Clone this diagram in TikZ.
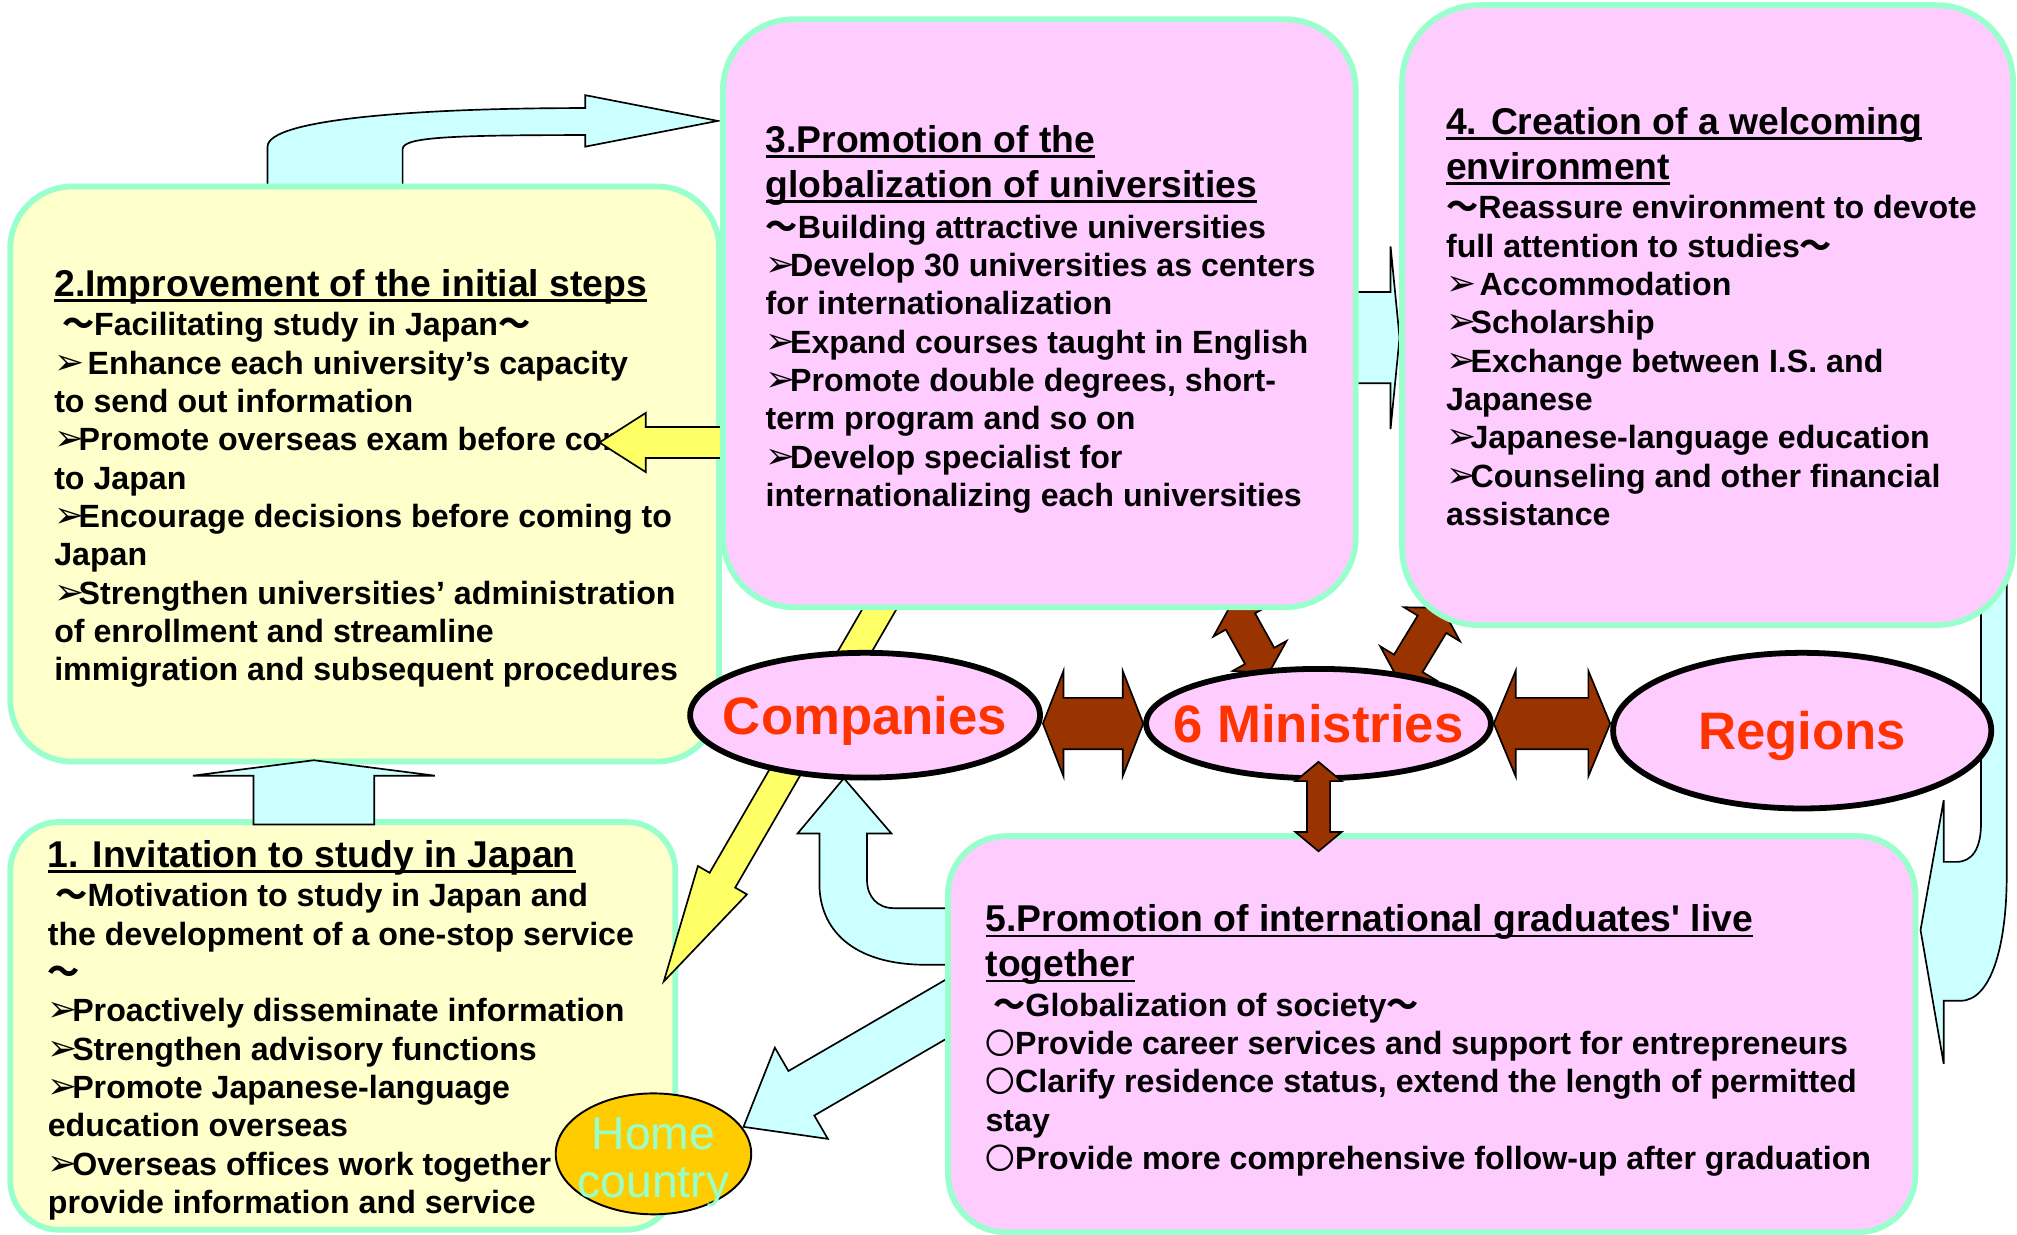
\documentclass[tikz,border=0pt]{standalone}
\usepackage{fontspec}
\setmainfont{Liberation Sans}
\newfontfamily\symbolfont{DejaVu Sans}
\newfontfamily\cjkfont{Noto Sans CJK JP}
\usetikzlibrary{shapes.geometric,calc}

\definecolor{panelline}{RGB}{153,255,204}
\definecolor{paleyellow}{RGB}{255,255,204}
\definecolor{palepink}{RGB}{255,204,255}
\definecolor{paleblue}{RGB}{204,255,255}
\definecolor{arrowbrown}{RGB}{153,51,0}
\definecolor{arrowyellow}{RGB}{255,255,102}
\definecolor{partnerred}{RGB}{255,51,0}
\definecolor{homegold}{RGB}{255,204,0}

% marks used in the lists
\newcommand{\arrowmark}{\makebox[19pt][l]{\symbolfont\fontsize{28}{28}\selectfont ➢}}
\newcommand{\tildemark}{{\cjkfont ～}}
\newcommand{\circmark}{{\cjkfont\mdseries\fontsize{23}{23}\selectfont 〇}}
\newsavebox{\titlebox}
\newcommand{\titleline}[1]{\sbox{\titlebox}{#1}\rlap{\rule[-4.5pt]{\wd\titlebox}{2pt}}\usebox{\titlebox}}

% block arrow: [style]{start}{tip}{half shaft}{half head}{head length}
\newcommand{\bigarrow}[6][]{%
  \coordinate (ba-s) at #2;
  \coordinate (ba-t) at #3;
  \coordinate (ba-h) at ($(ba-t)!#6!(ba-s)$);
  \path[#1] ($(ba-s)!#4!90:(ba-t)$) -- ($(ba-h)!#4!90:(ba-t)$) -- ($(ba-h)!#5!90:(ba-t)$) -- (ba-t)
    -- ($(ba-h)!#5!-90:(ba-t)$) -- ($(ba-h)!#4!-90:(ba-t)$) -- ($(ba-s)!#4!-90:(ba-t)$) -- cycle;}
% double block arrow: [style]{tip a}{tip b}{half shaft}{half head}{head length}
\newcommand{\pairarrow}[6][]{%
  \coordinate (pa-a) at #2;
  \coordinate (pa-b) at #3;
  \coordinate (pa-ha) at ($(pa-a)!#6!(pa-b)$);
  \coordinate (pa-hb) at ($(pa-b)!#6!(pa-a)$);
  \path[#1] (pa-a) -- ($(pa-ha)!#5!90:(pa-b)$) -- ($(pa-ha)!#4!90:(pa-b)$)
    -- ($(pa-hb)!#4!-90:(pa-a)$) -- ($(pa-hb)!#5!-90:(pa-a)$) -- (pa-b)
    -- ($(pa-hb)!#5!90:(pa-a)$) -- ($(pa-hb)!#4!90:(pa-a)$)
    -- ($(pa-ha)!#4!-90:(pa-b)$) -- ($(pa-ha)!#5!-90:(pa-b)$) -- cycle;}

\tikzset{
  yellowpanel/.style={draw=panelline, line width=4.5pt, fill=paleyellow, rounded corners=48pt, inner sep=0pt},
  pinkpanel/.style={draw=panelline, line width=4.5pt, fill=palepink, rounded corners=55pt, inner sep=0pt},
  partner/.style={ellipse, draw=black, line width=4.5pt, fill=palepink, text=partnerred,
    inner xsep=-20pt, inner ysep=0pt, text depth=0pt, font=\fontsize{41}{45}\selectfont\bfseries},
  hometown/.style={ellipse, draw=black, line width=1.5pt, fill=homegold, text=panelline,
    align=center, inner sep=-10pt, font=\fontsize{36}{38}\selectfont},
  titletext/.style={anchor=north west, inner sep=0pt, align=left, font=\fontsize{29}{35}\selectfont\bfseries},
  bodytext/.style={anchor=north west, inner sep=0pt, align=left, font=\fontsize{25}{29.8}\selectfont\bfseries},
  cyanarrow/.style={fill=paleblue, draw=black, line width=1.3pt},
  brownarrow/.style={fill=arrowbrown, draw=black, line width=1.3pt},
  yellowarrow/.style={fill=arrowyellow, draw=black, line width=1.3pt}}

\begin{document}
\begin{tikzpicture}[x=1pt,y=-1pt]
  \useasboundingbox (0,0) rectangle (1568,960);

  % arrows lying behind the panels
  \draw[cyanarrow] (208,147) -- (208,114) .. controls (208,92) and (330,84) .. (455,84) -- (455,74)
    -- (558,94) -- (455,114) -- (455,105) .. controls (345,105) and (313,107) .. (313,116) -- (313,147) -- cycle;
  \bigarrow[cyanarrow]{(1045,262.5)}{(1088,262.5)}{35.5pt}{71pt}{7pt}
  \draw[cyanarrow] (637,648) -- (620,648) -- (656,605) -- (693,648) -- (674,648) -- (674,684)
    .. controls (674,697) and (682,706) .. (695,706) -- (742,706) -- (742,750) -- (720,750)
    .. controls (662,750) and (637,722) .. (637,687) -- cycle;
  \bigarrow[cyanarrow]{(745,779)}{(578,876)}{20pt}{41pt}{52pt}
  \draw[cyanarrow] (1540,400) -- (1540,640) .. controls (1540,660) and (1533,670) .. (1521,670) -- (1511,670)
    -- (1511,622) -- (1493,723) -- (1511,827) -- (1511,778) -- (1524,778)
    .. controls (1548,778) and (1560,735) .. (1560,680) -- (1560,400) -- cycle;
  \pairarrow[brownarrow]{(957,470)}{(986.5,523)}{13pt}{24pt}{15pt}
  \pairarrow[brownarrow]{(1121,472.5)}{(1087,528.5)}{13pt}{25.5pt}{15pt}

  % 1. and 2.
  \node[yellowpanel, rounded corners=38pt, minimum width=517pt, minimum height=317pt] (invite) at (266.5,797.5) {};
  \node[titletext] (inviteTitle) at (37,649.5) {\strut\titleline{1. Invitation to study in Japan}};
  \node[bodytext] (inviteText) at (37,684) {\strut\hspace{6pt}\tildemark Motivation to study in Japan and\\
    the development of a one-stop service\\
    \tildemark\\
    \arrowmark Proactively disseminate information\\
    \arrowmark Strengthen advisory functions\\
    \arrowmark Promote Japanese-language\\
    education overseas\\
    \arrowmark Overseas offices work together\\
    provide information and service};
  \node[yellowpanel, minimum width=551pt, minimum height=447pt] (steps) at (283.5,368.5) {};
  \node[titletext] (stepsTitle) at (42,205.5) {\strut\titleline{2.Improvement of the initial steps}};
  \node[bodytext] (stepsText) at (42,240) {\strut\hspace{6pt}\tildemark Facilitating study in Japan\tildemark\\
    \arrowmark\ Enhance each university’s capacity\\
    to send out information\\
    \arrowmark Promote overseas exam before coming\\
    to Japan\\
    \arrowmark Encourage decisions before coming to\\
    Japan\\
    \arrowmark Strengthen universities’ administration\\
    of enrollment and streamline\\
    immigration and subsequent procedures};

  \bigarrow[yellowarrow]{(688,466)}{(516,763)}{11.5pt}{22pt}{91pt}
  \bigarrow[yellowarrow]{(575,344)}{(466,344)}{12pt}{23pt}{36pt}

  % 3., 4. and 5.
  \node[pinkpanel, minimum width=492pt, minimum height=457pt] (univ) at (808,243.5) {};
  \node[titletext] (univTitle) at (595,93.5) {\strut\titleline{3.Promotion of the}\\
    \titleline{globalization of universities}};
  \node[bodytext] (univText) at (595,164) {\strut\tildemark Building attractive universities\\
    \arrowmark Develop 30 universities as centers\\
    for internationalization\\
    \arrowmark Expand courses taught in English\\
    \arrowmark Promote double degrees, short-\\
    term program and so on\\
    \arrowmark Develop specialist for\\
    internationalizing each universities};
  \node[pinkpanel, rounded corners=60pt, minimum width=475pt, minimum height=482pt] (welcome) at (1327.5,245) {};
  \node[titletext] (welcomeTitle) at (1124,79.5) {\strut\titleline{4. Creation of a welcoming}\\
    \titleline{environment}};
  \node[bodytext] (welcomeText) at (1124,149) {\strut\tildemark Reassure environment to devote\\
    full attention to studies\tildemark\\
    \arrowmark\ Accommodation\\
    \arrowmark Scholarship\\
    \arrowmark Exchange between I.S. and\\
    Japanese\\
    \arrowmark Japanese-language education\\
    \arrowmark Counseling and other financial\\
    assistance};
  \node[pinkpanel, rounded corners=45pt, minimum width=752pt, minimum height=308pt] (grads) at (1113,804) {};
  \node[titletext] (gradsTitle) at (766,699.5) {\strut\titleline{5.Promotion of international graduates\textquotesingle\ live}\\
    \titleline{together}};
  \node[bodytext] (gradsText) at (766,769) {\strut\hspace{6pt}\tildemark Globalization of society\tildemark\\
    \circmark Provide career services and support for entrepreneurs\\
    \circmark Clarify residence status, extend the length of permitted\\
    stay\\
    \circmark Provide more comprehensive follow-up after graduation};

  % partners
  \node[partner, minimum width=272pt, minimum height=97pt] (companies) at (672.5,556) {Companies};
  \node[partner, minimum width=268pt, minimum height=85pt] (ministries) at (1025,562.5) {6 Ministries};
  \node[partner, minimum width=294pt, minimum height=121pt] (regions) at (1401,568) {Regions};
  \node[hometown, minimum width=152pt, minimum height=94pt] (home) at (508,897) {\rule{0pt}{38pt}Home\\country};

  % arrows on top
  \bigarrow[cyanarrow]{(244,641)}{(244,591)}{47pt}{94pt}{12pt}
  \pairarrow[brownarrow]{(companies.east |- ministries.west)}{(ministries.west)}{20pt}{41pt}{16pt}
  \pairarrow[brownarrow]{(ministries.east)}{(regions.west |- ministries.east)}{20pt}{41pt}{17pt}
  \pairarrow[brownarrow]{($(ministries.south)+(0,-15)$)}{($(ministries.south |- grads.north)+(0,14)$)}{9pt}{18pt}{15pt}
\end{tikzpicture}
\end{document}
